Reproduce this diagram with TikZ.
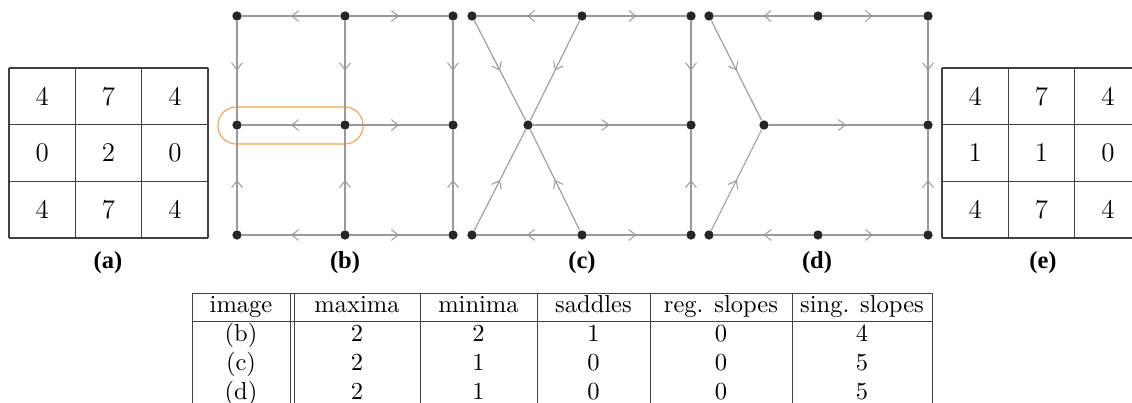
\documentclass[tikz,border=0pt]{standalone}
\usepackage{fontspec}
\newfontfamily\labelfont{Liberation Serif}
\usepackage{tikz}
\usetikzlibrary{
  calc,
  positioning,
  arrows.meta,
  decorations.markings
}
\definecolor{hiliteorange}{RGB}{245,160,80}

\begin{document}
\begin{tikzpicture}[x=0.408pt,y=-0.408pt,>=Latex]
  \tikzset{
    dot/.style={circle, fill=black!85, inner sep=0pt, minimum size=3.8pt},
    flow/.style={draw=black!40, line width=0.45pt, postaction={decorate},
      decoration={markings,
        mark=at position 0.5 with {\arrow{Straight Barb[length=2.8pt,width=4.4pt,line width=0.4pt]}}}},
    cellval/.style={font=\fontsize{11}{13}\selectfont},
    panellabel/.style={font=\labelfont\bfseries},
    tabtext/.style={anchor=base},
    gridline/.style={draw=black!75, line width=0.45pt},
    ruleline/.style={draw=black!75, line width=0.4pt},
    hilite/.style={draw=hiliteorange, line width=0.45pt, rounded corners=7.4pt},
  }
\useasboundingbox (0,0) rectangle (1132,403);
\clip (0,0) rectangle (1132,403);

% value grids (a) and (e)
\foreach \left/\pname in {9/a,942/e}{
  \foreach \i in {0,1,2,3}{
    \draw[gridline] ({\left+66.33*\i},68) -- ({\left+66.33*\i},238);
    \draw[gridline] (\left,{68+56.67*\i}) -- ({\left+199},{68+56.67*\i});
  }
}
\foreach \row/\vals in {0/{4,7,4},1/{0,2,0},2/{4,7,4}}
  \foreach \v [count=\c from 0] in \vals
    \node[cellval] (a-\row-\c) at ({42.2+66.33*\c},{96.3+56.67*\row}) {\v};
\foreach \row/\vals in {0/{4,7,4},1/{1,1,0},2/{4,7,4}}
  \foreach \v [count=\c from 0] in \vals
    \node[cellval] (e-\row-\c) at ({975.2+66.33*\c},{96.3+56.67*\row}) {\v};

% graph (b)
\draw[hilite] ($(237,125)+(-19,-18)$) rectangle ($(345,125)+(18,19)$);
\foreach \x [count=\c] in {237,345,453}
  \foreach \y [count=\r] in {16,125,235}
    \node[dot] (b-\r-\c) at (\x,\y) {};
\foreach \s/\t in {b-1-2/b-1-1, b-1-2/b-1-3, b-2-2/b-2-1, b-2-2/b-2-3,
                   b-3-2/b-3-1, b-3-2/b-3-3, b-1-1/b-2-1, b-3-1/b-2-1,
                   b-1-2/b-2-2, b-3-2/b-2-2, b-1-3/b-2-3, b-3-3/b-2-3}
  \draw[flow] (\s) -- (\t);

% graph (c)
\node[dot] (c-1-1) at (472,16) {};
\node[dot] (c-1-2) at (582,16) {};
\node[dot] (c-1-3) at (691,16) {};
\node[dot] (c-mid) at (528,125) {};
\node[dot] (c-2-3) at (691,125) {};
\node[dot] (c-3-1) at (472,235) {};
\node[dot] (c-3-2) at (582,235) {};
\node[dot] (c-3-3) at (691,235) {};
\foreach \s/\t in {c-1-2/c-1-1, c-1-2/c-1-3, c-1-1/c-mid, c-1-2/c-mid,
                   c-3-1/c-mid, c-3-2/c-mid, c-mid/c-2-3, c-1-3/c-2-3,
                   c-3-3/c-2-3, c-3-2/c-3-1, c-3-2/c-3-3}
  \draw[flow] (\s) -- (\t);

% graph (d)
\node[dot] (d-1-1) at (709,16) {};
\node[dot] (d-1-2) at (818,16) {};
\node[dot] (d-1-3) at (928,16) {};
\node[dot] (d-mid) at (764,125) {};
\node[dot] (d-2-3) at (928,125) {};
\node[dot] (d-3-1) at (709,235) {};
\node[dot] (d-3-2) at (818,235) {};
\node[dot] (d-3-3) at (928,235) {};
\foreach \s/\t in {d-1-2/d-1-1, d-1-2/d-1-3, d-1-1/d-mid, d-3-1/d-mid,
                   d-mid/d-2-3, d-1-3/d-2-3, d-3-3/d-2-3,
                   d-3-2/d-3-1, d-3-2/d-3-3}
  \draw[flow] (\s) -- (\t);

% panel labels
\foreach \x/\t in {108/a,345/b,582/c,817/d,1043/e}
  \node[panellabel] (lab-\t) at (\x,263) {(\t)};

% table
\foreach \x in {192,290,294,420,537,650,792,932}
  \draw[ruleline] (\x,293) -- (\x,406);
\foreach \y in {293,321,406}
  \draw[ruleline] (192,\y) -- (932,\y);
\foreach \x/\t [count=\i] in {241/image, 357/maxima, 478.5/minima,
                              593.5/saddles, 721/reg. slopes, 862/sing. slopes}
  \node[tabtext] (head-\i) at (\x,313) {\t};
\foreach \y/\img/\mx/\mn/\sd/\rs/\ss in {342/b/2/2/1/0/4, 371/c/2/1/0/0/5, 400/d/2/1/0/0/5}{
  \node[tabtext] (row-\img-0) at (241,\y) {(\img)};
  \node[tabtext] (row-\img-1) at (357,\y) {\mx};
  \node[tabtext] (row-\img-2) at (478.5,\y) {\mn};
  \node[tabtext] (row-\img-3) at (593.5,\y) {\sd};
  \node[tabtext] (row-\img-4) at (721,\y) {\rs};
  \node[tabtext] (row-\img-5) at (862,\y) {\ss};
}

\end{tikzpicture}
\end{document}
